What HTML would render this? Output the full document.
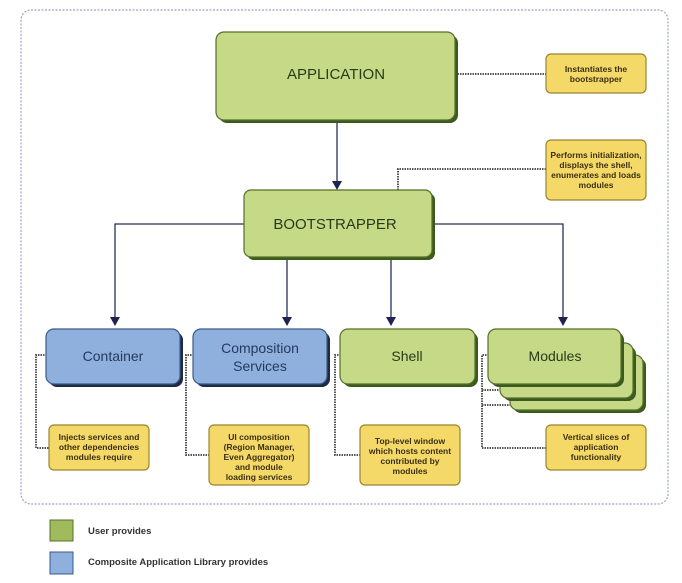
<!DOCTYPE html>
<html><head><meta charset="utf-8"><style>
html,body{margin:0;padding:0;background:#fff}
svg{display:block}
text{font-family:"Liberation Sans Narrow","Liberation Sans",sans-serif}
.big{font-size:15px;fill:#2a3a1a}
.lbl{font-size:14px}
.note{font-size:8.5px;font-weight:bold;fill:#3a3010}
.dot{stroke:#555;stroke-width:2;stroke-dasharray:1.5 1;fill:none}
.ln{stroke:#2a2f55;stroke-width:1.3;fill:none}
</style></head><body>
<svg width="682" height="583" viewBox="0 0 682 583" xmlns="http://www.w3.org/2000/svg">
<rect x="21" y="10" width="647" height="494" rx="10" fill="none" stroke="#9aa3c8" stroke-width="1.2" stroke-dasharray="2 1.5"/>

<line class="ln" x1="337" y1="121" x2="337" y2="184"/>
<path class="ln" d="M244,224 H115 V320"/>
<path class="ln" d="M432,224 H563 V320"/>
<line class="ln" x1="287" y1="258" x2="287" y2="320"/>
<line class="ln" x1="391" y1="258" x2="391" y2="320"/>
<g fill="#1e2350">
<path d="M332,181 L342,181 L337,190 Z"/>
<path d="M110,317 L120,317 L115,326 Z"/>
<path d="M282,317 L292,317 L287,326 Z"/>
<path d="M386,317 L396,317 L391,326 Z"/>
<path d="M558,317 L568,317 L563,326 Z"/>
</g>

<path class="dot" d="M455,74 H546"/>
<path class="dot" d="M398,190 V169 H546"/>
<path class="dot" d="M47,355 H36 V448 H49"/>
<path class="dot" d="M194,355 H186 V455 H209"/>
<path class="dot" d="M341,355 H335 V455 H360"/>
<path class="dot" d="M489,355 H482 V448 H546 M482,390 H500 M482,405 H510"/>

<rect x="219" y="35" width="239" height="88" rx="8" fill="#3d5a1e"/>
<rect x="216" y="32" width="239" height="88" rx="8" fill="#c5d986" stroke="#55702a" stroke-width="1.2"/>
<text class="big" x="336" y="79" text-anchor="middle" font-size="16">APPLICATION</text>

<rect x="247" y="193" width="188" height="67" rx="7" fill="#3d5a1e"/>
<rect x="244" y="190" width="188" height="67" rx="7" fill="#c5d986" stroke="#55702a" stroke-width="1.2"/>
<text class="big" x="335" y="229" text-anchor="middle" font-size="16">BOOTSTRAPPER</text>

<rect x="49" y="332" width="134" height="55" rx="8" fill="#1e2a45"/>
<rect x="46" y="329" width="134" height="55" rx="8" fill="#8fb0dc" stroke="#3a5a8a" stroke-width="1.2"/>
<text class="lbl" x="113" y="361" text-anchor="middle" fill="#243a60">Container</text>

<rect x="196" y="332" width="134" height="55" rx="8" fill="#1e2a45"/>
<rect x="193" y="329" width="134" height="55" rx="8" fill="#8fb0dc" stroke="#3a5a8a" stroke-width="1.2"/>
<text class="lbl" x="260" y="353" text-anchor="middle" fill="#243a60">Composition</text>
<text class="lbl" x="260" y="371" text-anchor="middle" fill="#243a60">Services</text>

<rect x="343" y="332" width="135" height="55" rx="8" fill="#3d5a1e"/>
<rect x="340" y="329" width="135" height="55" rx="8" fill="#c5d986" stroke="#55702a" stroke-width="1.2"/>
<text class="lbl" x="407" y="361" text-anchor="middle" fill="#2a3a1a">Shell</text>

<rect x="513" y="358" width="133" height="55" rx="8" fill="#3d5a1e"/>
<rect x="510" y="355" width="133" height="55" rx="8" fill="#c5d986" stroke="#55702a" stroke-width="1.2"/>
<rect x="503" y="346" width="133" height="55" rx="8" fill="#3d5a1e"/>
<rect x="500" y="343" width="133" height="55" rx="8" fill="#c5d986" stroke="#55702a" stroke-width="1.2"/>
<rect x="491" y="332" width="133" height="55" rx="8" fill="#3d5a1e"/>
<rect x="488" y="329" width="133" height="55" rx="8" fill="#c5d986" stroke="#55702a" stroke-width="1.2"/>
<text class="lbl" x="555" y="361" text-anchor="middle" fill="#2a3a1a">Modules</text>

<g fill="#f5d968" stroke="#9a8530" stroke-width="1.2">
<rect x="546" y="54" width="100" height="39" rx="5"/>
<rect x="546" y="140" width="100" height="60" rx="5"/>
<rect x="49" y="425" width="100" height="45" rx="5"/>
<rect x="209" y="425" width="100" height="60" rx="5"/>
<rect x="360" y="425" width="100" height="60" rx="5"/>
<rect x="546" y="425" width="100" height="45" rx="5"/>
</g>
<g class="note" text-anchor="middle">
<text x="596" y="72">Instantiates the</text><text x="596" y="82">bootstrapper</text>
<text x="596" y="158">Performs initialization,</text><text x="596" y="168">displays the shell,</text><text x="596" y="178">enumerates and loads</text><text x="596" y="188">modules</text>
<text x="99" y="440">Injects services and</text><text x="99" y="450">other dependencies</text><text x="99" y="460">modules require</text>
<text x="259" y="440">UI composition</text><text x="259" y="450">(Region Manager,</text><text x="259" y="460">Even Aggregator)</text><text x="259" y="470">and module</text><text x="259" y="480">loading services</text>
<text x="410" y="444">Top-level window</text><text x="410" y="454">which hosts content</text><text x="410" y="464">contributed by</text><text x="410" y="474">modules</text>
<text x="596" y="440">Vertical slices of</text><text x="596" y="450">application</text><text x="596" y="460">functionality</text>
</g>

<rect x="50" y="520" width="23" height="21" fill="#9fbb5c" stroke="#55702a"/>
<text x="88" y="534" font-size="9.5" font-weight="bold" fill="#333">User provides</text>
<rect x="50" y="552" width="23" height="22" fill="#8fb0dc" stroke="#3a5a8a"/>
<text x="88" y="565" font-size="9.5" font-weight="bold" fill="#333">Composite Application Library provides</text>
</svg>
</body></html>
